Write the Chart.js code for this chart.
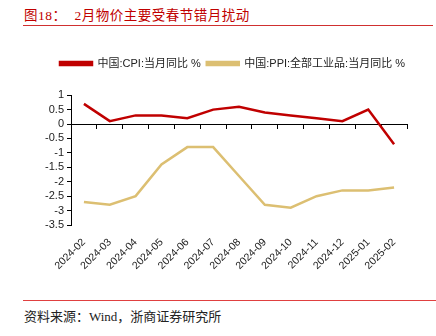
<!DOCTYPE html>
<html>
<head>
<meta charset="utf-8">
<script src="https://cdn.jsdelivr.net/npm/chart.js@4/dist/chart.umd.min.js"></script>
<style>
body { margin: 0; width: 436px; height: 336px; background: #fff; position: relative; overflow: hidden; font-family: "Liberation Serif", "Noto Sans CJK SC", serif; }
#title { position: absolute; left: 24px; top: 4px; font-size: 13.5px; color: #c00000; letter-spacing: 0.5px; white-space: nowrap; }
#title span { margin-left: 8px; }
#line1 { position: absolute; left: 23px; top: 25px; width: 410px; height: 1px; background: #d03030; }
#line2 { position: absolute; left: 23px; top: 300px; width: 413px; height: 1px; background: #e04040; }
#src { position: absolute; left: 24px; top: 306px; font-size: 13px; color: #222; }
#wrap { position: absolute; left: 0; top: 29px; width: 436px; height: 246px; }
</style>
</head>
<body>
<div id="title">图18：<span>2月物价主要受春节错月扰动</span></div>
<div id="line1"></div>
<div id="wrap"><canvas id="c"></canvas></div>
<div id="line2"></div>
<div id="src">资料来源：Wind，浙商证券研究所</div>
<script>
// dati
var mesi = ['2024-02','2024-03','2024-04','2024-05','2024-06','2024-07','2024-08','2024-09','2024-10','2024-11','2024-12','2025-01','2025-02'];
var cpi = [0.7, 0.1, 0.3, 0.3, 0.2, 0.5, 0.6, 0.4, 0.3, 0.2, 0.1, 0.5, -0.7];
var ppi = [-2.7, -2.8, -2.5, -1.4, -0.8, -0.8, -1.8, -2.8, -2.9, -2.5, -2.3, -2.3, -2.2];
var yTicks = [1, 0.5, 0, -0.5, -1, -1.5, -2, -2.5, -3, -3.5];

var font = { family: 'Arial, "Liberation Sans", "Noto Sans CJK SC"', size: 11 };

// sposto un po' la legenda a destra come nell'originale
var spostaLegenda = {
    id: 'spostaLegenda',
    afterLayout: function(c) {
        c.legend.left += 29;
        c.legend.right += 29;
    }
};

var chart = new Chart(document.getElementById('c'), {
    type: 'line',
    data: {
        labels: mesi,
        datasets: [{
            label: '中国:CPI:当月同比 %',
            data: cpi,
            borderColor: '#c00000',
            backgroundColor: '#c00000',
            borderWidth: 2.5,
            pointRadius: 0,
            tension: 0
        },
        {
            label: '中国:PPI:全部工业品:当月同比 %',
            data: ppi,
            borderColor: '#dcbf72',
            backgroundColor: '#dcbf72',
            borderWidth: 2.5,
            pointRadius: 0,
            tension: 0
        }]
    },
    plugins: [spostaLegenda],
    options: {
        responsive: true,
        maintainAspectRatio: false,
        animation: false,
        layout: { padding: { left: 0, right: 29, top: 23, bottom: 0 } },
        plugins: {
            tooltip: { enabled: false },
            legend: {
                position: 'top',
                weight: 3000,
                labels: {
                    boxWidth: 32,
                    boxHeight: 3,
                    padding: 6,
                    color: '#222',
                    font: { family: font.family, size: 11 }
                }
            },
            // spazio vuoto tra legenda e grafico
            title: {
                display: true,
                text: '',
                font: { size: 1 },
                padding: { top: 0, bottom: 15 }
            }
        },
        scales: {
            x: {
                type: 'category',
                offset: true,
                grid: { display: false },
                border: { display: false },
                ticks: {
                    autoSkip: false,
                    minRotation: 45,
                    maxRotation: 45,
                    color: '#222',
                    font: { family: font.family, size: 10.5 }
                },
                afterFit: function(scale) { scale.height = 50; }
            },
            x2: {
                type: 'category',
                labels: mesi,
                position: { y: 0 },
                offset: true,
                grid: { offset: true, drawOnChartArea: false, tickLength: 4, color: '#000' },
                border: { display: true, color: '#000', width: 1 },
                ticks: { display: false }
            },
            y: {
                min: -3.5,
                max: 1,
                afterBuildTicks: function(scale) {
                    scale.ticks = yTicks.map(function(v) { return { value: v }; });
                },
                grid: { drawOnChartArea: false, tickLength: 4, color: '#000' },
                border: { display: true, color: '#000', width: 1 },
                ticks: {
                    autoSkip: false,
                    color: '#222',
                    font: font,
                    padding: 3,
                    callback: function(v) { return String(v); }
                },
                afterFit: function(scale) { scale.width = 71; }
            }
        }
    }
});
</script>
</body>
</html>
